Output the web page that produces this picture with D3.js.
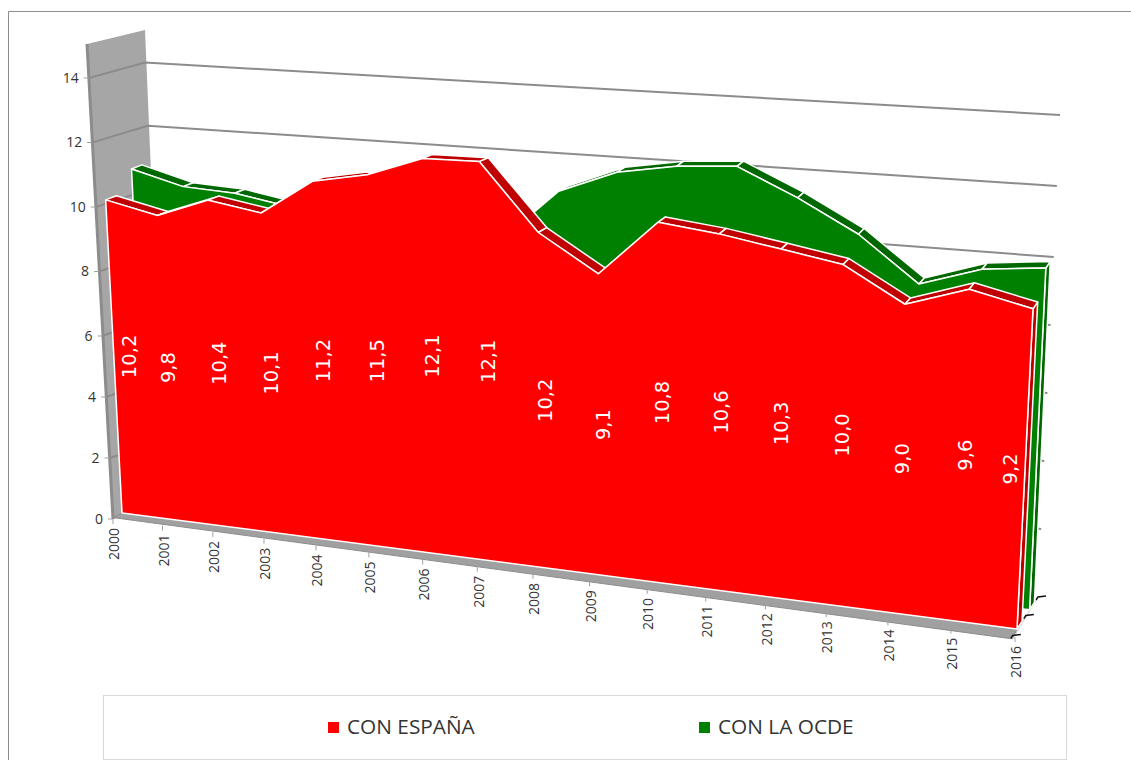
<!DOCTYPE html>
<html><head><meta charset="utf-8">
<script src="https://cdn.jsdelivr.net/npm/d3@7"></script>
<style>html,body{margin:0;padding:0;background:#fff}svg{display:block}text{font-family:"Open Sans",sans-serif}</style>
</head><body><svg id="c" width="1131" height="760"></svg>
<script>
const years=["2000","2001","2002","2003","2004","2005","2006","2007","2008","2009","2010","2011","2012","2013","2014","2015","2016"];
const conEspana=[10.2,9.8,10.4,10.1,11.2,11.5,12.1,12.1,10.2,9.1,10.8,10.6,10.3,10.0,9.0,9.6,9.2];
const conOcde=[10.86,10.4,10.3,10.0,9.8,9.7,9.6,9.5,11.08,11.78,12.08,12.2,11.39,10.45,9.13,9.71,9.89];
const yTicks=[0,2,4,6,8,10,12,14];
const legendNames=["CON ESPAÑA","CON LA OCDE"];

const svg=d3.select("#c");
const N=years.length-1;
// perspective along the category axis
const makeWarp=p=>i=>i*(1+p*N)/(N*(1+p*i));
const warp=makeWarp(-0.006), floorWarp=makeWarp(-0.00805);
const frontX=d3.scaleLinear([0,1],[122,1017]), frontY=d3.scaleLinear([0,1],[513,629]);
const backX=d3.scaleLinear([0,1],[165,1038]),  backY=d3.scaleLinear([0,1],[505,597]);
const unitF=d3.scaleLinear([0,7,8,N],[30.7,33.0,32.9,34.8]), unitB=d3.scaleLinear([0,N],[31.6,34.4]);
const leanF=d3.scaleLinear([0,4,8,12,N],[-1.6,-1.5,-0.85,0.5,1.74]), leanB=d3.scaleLinear([0,N/2,N],[-1.43,-0.6,1.57]);
const P=(i,v,z)=>{const t=warp(i);
  const fx=frontX(t)+leanF(i)*v, fy=frontY(t)-unitF(i)*v;
  const bx=backX(t)+leanB(i)*v,  by=backY(t)-unitB(i)*v;
  return [fx+(bx-fx)*z, fy+(by-fy)*z];};
const line=d3.line().curve(d3.curveLinearClosed);
const open=d3.line();
// y axis on the front edge of the side wall
const wallY=d3.scaleLinear([0,6,14,15],[519,336,78,44]);
const wallX=d3.scaleLinear([0,15],[113,87]);
// far right end of the back-wall gridlines
const gridEndY=d3.scaleLinear([0,10,14],[597,257,115]);
// front edge of the floor, where the category ticks sit
const floorX=d3.scaleLinear([0,1],[113,1015]), floorY=d3.scaleLinear([0,1],[519,637]);

// frame
svg.append("path").attr("d","M8.5,760V11.5H1131").attr("fill","none").attr("stroke","#8c8c8c").attr("stroke-width",1);

// side wall
svg.append("path").attr("d",line([[wallX(15),wallY(15)],[145,30],P(0,0,1),[wallX(0),wallY(0)]])).attr("fill","#a6a6a6");
svg.append("path").attr("d",open([[wallX(15),wallY(15)],[wallX(0),wallY(0)]])).attr("stroke","#8c8c8c").attr("stroke-width",3).attr("fill","none");
// gridlines
yTicks.filter(v=>v>0).forEach(v=>{
  const e=P(N,v,1);
  svg.append("path").attr("d",open([[wallX(v),wallY(v)],P(0,v,1),[e[0],gridEndY(v)]])).attr("fill","none").attr("stroke","#8c8c8c").attr("stroke-width",2);
});
yTicks.forEach(v=>{
  svg.append("line").attr("x1",wallX(v)-5).attr("x2",wallX(v)).attr("y1",wallY(v)).attr("y2",wallY(v)).attr("stroke","#a0a0a0");
  svg.append("text").attr("x",wallX(v)-10).attr("y",wallY(v)+1).attr("text-anchor","end").attr("dominant-baseline","middle").attr("font-size",14).attr("fill","#333").text(v);
});
yTicks.filter(v=>v>0&&v<10).forEach(v=>{const p=P(N,v,1);
  svg.append("circle").attr("cx",p[0]-3).attr("cy",p[1]).attr("r",0.8).attr("fill","#999");});
// floor
const floorEdge=i=>P(i,-0.1,-0.2);
svg.append("path").attr("d",line([floorEdge(0),floorEdge(N),P(N,0,0),P(0,0,0)])).attr("fill","#a0a0a0").attr("stroke","#8c8c8c");
svg.append("path").attr("d",open([floorEdge(N),P(N,0,1)])).attr("stroke","#c8c8c8").attr("fill","none");
[-0.2,0.42,1].forEach(z=>{const p=P(N,0,z);
  svg.append("path").attr("d",open([[p[0]-2,p[1]+3],p,[p[0]+8,p[1]-1]])).attr("fill","none").attr("stroke","#111").attr("stroke-width",1.5);});

function series(vals,z0,z1,face,dark){
  const g=svg.append("g").attr("stroke","#fff").attr("stroke-width",1.5).attr("stroke-linejoin","round");
  // end face
  g.append("path").attr("d",line([P(N,0,z0),P(N,vals[N],z0),P(N,vals[N],z1),P(N,0,z1)])).attr("fill",dark);
  // top strips
  g.selectAll(null).data(d3.pairs(vals.map((v,i)=>({v,i})))).join("path")
    .attr("d",([a,b])=>line([P(a.i,a.v,z0),P(b.i,b.v,z0),P(b.i,b.v,z1),P(a.i,a.v,z1)])).attr("fill",dark);
  // front face
  const pts=vals.map((v,i)=>P(i,v,z0));
  g.append("path").attr("d",line([...pts,P(N,0,z0),P(0,0,z0)])).attr("fill",face);
}
series(conOcde,0.6,0.83,"#008000","#006800");
series(conEspana,0,0.24,"#ff0000","#c00000");

// data labels
conEspana.forEach((v,i)=>{const p=P(i,v/2,0);
  const x=Math.max(130,Math.min(1011,p[0]+4));
  svg.append("text").attr("transform",`translate(${x},${p[1]}) rotate(-90)`).attr("text-anchor","middle").attr("dominant-baseline","middle")
    .attr("font-size",19.5).attr("fill","#fff").style("font-family","'DejaVu Sans'").text(v.toFixed(1).replace(".",","));
});
// category labels
years.forEach((y,i)=>{const t=floorWarp(i), x=floorX(t), yy=floorY(t);
  svg.append("line").attr("x1",x).attr("x2",x).attr("y1",yy).attr("y2",yy+5).attr("stroke","#a0a0a0");
  svg.append("text").attr("transform",`translate(${x+2.5},${yy+9}) rotate(-90)`).attr("text-anchor","end").attr("dominant-baseline","middle")
    .attr("font-size",14).attr("fill","#333").text(y);
});
// legend
svg.append("rect").attr("x",103.5).attr("y",695.5).attr("width",963).attr("height",64).attr("fill","#fff").attr("stroke","#d9d9d9");
const legendColor=d3.scaleOrdinal(legendNames,["#ff0000","#008000"]);
const legendX=d3.scalePoint(legendNames,[328,699]);
legendNames.forEach(n=>{
  svg.append("rect").attr("x",legendX(n)).attr("y",722).attr("width",11).attr("height",11).attr("fill",legendColor(n));
  svg.append("text").attr("x",legendX(n)+19).attr("y",728).attr("dominant-baseline","middle").attr("font-size",20.8).attr("fill","#333").text(n);
});
</script></body></html>
